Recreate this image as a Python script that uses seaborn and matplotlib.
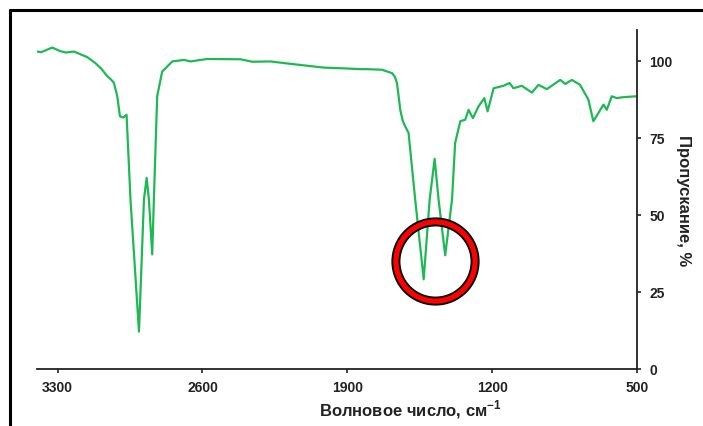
import numpy as np
import pandas as pd
import matplotlib.pyplot as plt
import seaborn as sns
from matplotlib.lines import Line2D

# -------------------------
# IR spectrum data
# -------------------------
wavenumber = [3398, 3380, 3326, 3290, 3261, 3221, 3157, 3117, 3090, 3060, 3040, 3028,
              3012, 2999, 2983, 2967, 2948, 2907, 2883, 2870, 2859, 2843, 2835, 2819,
              2795, 2746, 2690, 2658, 2577, 2416, 2360, 2272, 2159, 2014, 1934,
              1837, 1805, 1732, 1684, 1670, 1660, 1652, 1644, 1632, 1620, 1604, 1588,
              1572, 1531, 1502, 1478, 1459, 1427, 1394, 1379, 1354, 1330, 1314, 1293,
              1266, 1238, 1222, 1193, 1145, 1116, 1097, 1057, 1008, 976, 936, 871,
              847, 815, 775, 735, 711, 687, 662, 646, 622, 598, 566, 502]
transmission = [103.0, 102.8, 104.3, 103.2, 102.7, 103.0, 101.2, 99.2, 97.5, 95.0, 93.8, 92.8,
                88.5, 82.0, 81.6, 82.5, 55.0, 12.1, 55.0, 62.0, 55.0, 37.2, 55.0, 88.5,
                96.5, 99.8, 100.3, 99.8, 100.6, 100.5, 99.7, 99.8, 98.9, 97.8, 97.6,
                97.3, 97.3, 97.1, 96.0, 94.8, 92.7, 88.5, 84.0, 80.5, 78.7, 76.6, 65.8,
                55.0, 29.1, 55.0, 68.2, 55.0, 36.9, 55.0, 73.3, 80.4, 80.9, 84.1, 81.4,
                85.2, 87.9, 83.6, 91.1, 91.9, 92.8, 91.1, 91.9, 89.7, 92.2, 90.8, 93.8,
                92.5, 93.8, 92.2, 87.4, 80.4, 83.0, 85.8, 84.1, 88.5, 87.9, 88.2, 88.5]

x_ticks = [3300, 2600, 1900, 1200, 500]
y_ticks = [0, 25, 50, 75, 100]

circle_wn, circle_t = 1475, 35

df = pd.DataFrame({"wn": wavenumber, "T": transmission})

# -------------------------
# Style
# -------------------------
sns.set_theme(style="white")
plt.rcParams["font.family"] = ["Liberation Sans", "DejaVu Sans"]
plt.rcParams["mathtext.fontset"] = "custom"
plt.rcParams["mathtext.rm"] = "Liberation Sans"
plt.rcParams["mathtext.bf"] = "Liberation Sans:bold"

fig = plt.figure(figsize=(7.03, 4.27), dpi=100)
ax = fig.add_axes([0.0526, 0.1335, 0.8535, 0.7939])

sns.lineplot(data=df, x="wn", y="T", sort=False, color="#1db954", linewidth=1.6, ax=ax)

# red ring marking the doublet
ax.plot([circle_wn], [circle_t], marker="o", ms=57, mfc="none", mec="black", mew=6.5, zorder=5)
ax.plot([circle_wn], [circle_t], marker="o", ms=57, mfc="none", mec="red", mew=3.8, zorder=6)

ax.set_xlim(3400, 500)
ax.set_ylim(0, 110)
ax.set_xticks(x_ticks)
ax.set_yticks(y_ticks)
ax.set_xticklabels([str(v) for v in x_ticks], fontweight="bold", fontsize=10, color="#222222")
ax.set_yticklabels([str(v) for v in y_ticks], fontweight="bold", fontsize=10, color="#222222")

ax.spines["left"].set_visible(False)
ax.spines["top"].set_visible(False)
for s in ["bottom", "right"]:
    ax.spines[s].set_color("#222222")
    ax.spines[s].set_linewidth(1.3)

ax.yaxis.tick_right()
ax.yaxis.set_label_position("right")
ax.tick_params(axis="x", direction="out", length=3, width=1.2, pad=5, bottom=True)
ax.tick_params(axis="y", direction="out", length=3, width=1.2, pad=6, right=True, left=False)

ax.set_xlabel("Волновое число, см$^{\\mathbf{-1}}$", fontsize=12, fontweight="bold",
              color="#222222", va="center")
ax.xaxis.set_label_coords(0.622, -0.118)
ax.set_ylabel("Пропускание, %", fontsize=12, fontweight="bold", color="#222222",
              rotation=270, va="center", ha="center")
ax.yaxis.set_label_coords(1.077, 0.5)

# outer frame (partly outside the image)
fig.add_artist(Line2D([10 / 703, 1.0], [1 - 11 / 427] * 2, color="black", lw=2.2,
                      transform=fig.transFigure))
fig.add_artist(Line2D([10 / 703] * 2, [0.0, 1 - 11 / 427], color="black", lw=2.2,
                      transform=fig.transFigure))

fig.savefig("out.png", dpi=100)
